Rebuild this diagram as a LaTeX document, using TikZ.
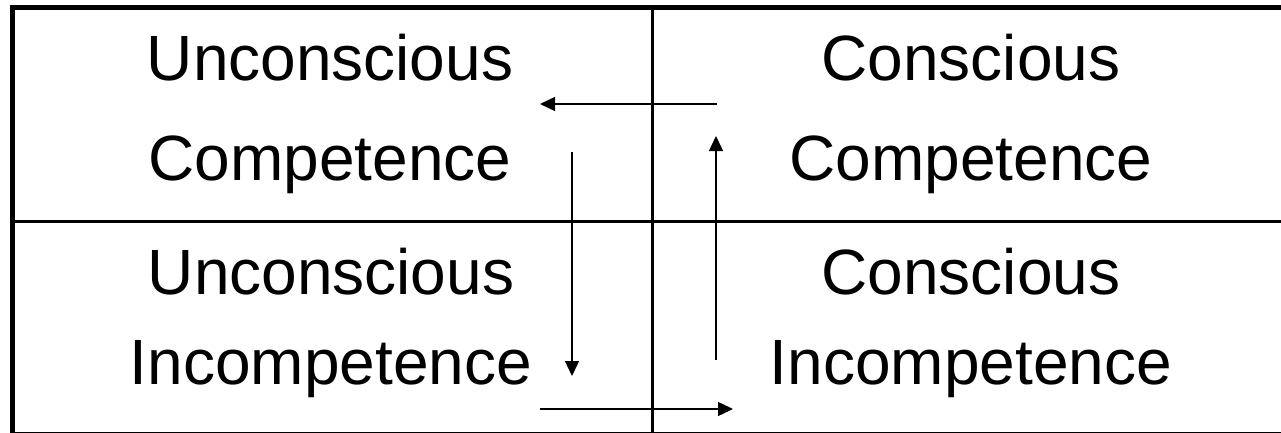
\documentclass[tikz,border=0pt]{standalone}
\usepackage{fontspec}
\setmainfont{Liberation Sans}
\usetikzlibrary{arrows.meta}
\begin{document}
\begin{tikzpicture}[x=1pt,y=-1pt,
  lbl/.style={anchor=base,inner sep=0pt,font=\fontsize{64}{64}\selectfont},
  frameline/.style={line width=5pt,draw=black},
  gridline/.style={line width=3pt,draw=black},
  flow/.style={line width=1.4pt,-{Triangle[length=15pt,width=14pt]}}]
\useasboundingbox (0,0) rectangle (1281,433);
\begin{scope}
\clip (0,0) rectangle (1281,433);
\draw[frameline] (12.5,8) rectangle (1295,434.5);
\draw[gridline] (652,8) -- (652,440);
\draw[gridline] (12.5,221.5) -- (1295,221.5);
\end{scope}
% labels
\node[lbl] (ucA) at (330,81) {Unconscious};
\node[lbl] (ucB) at (330,180) {Competence};
\node[lbl] (ccA) at (971,81) {Conscious};
\node[lbl] (ccB) at (971,180) {Competence};
\node[lbl] (uiA) at (331,294) {Unconscious};
\node[lbl] (uiB) at (331,384) {Incompetence};
\node[lbl] (ciA) at (971,294) {Conscious};
\node[lbl] (ciB) at (971,384) {Incompetence};
% arrow endpoints
\coordinate (a1s) at (717,104);
\coordinate (a1e) at (540,104);
\coordinate (a2s) at (716,360);
\coordinate (a2e) at (716,136);
\coordinate (a3s) at (572,152);
\coordinate (a3e) at (572,376);
\coordinate (a4s) at (540,409);
\coordinate (a4e) at (733,409);
\draw[flow] (a1s) -- (a1e);
\draw[flow] (a2s) -- (a2e);
\draw[flow] (a3s) -- (a3e);
\draw[flow] (a4s) -- (a4e);
\end{tikzpicture}
\end{document}
